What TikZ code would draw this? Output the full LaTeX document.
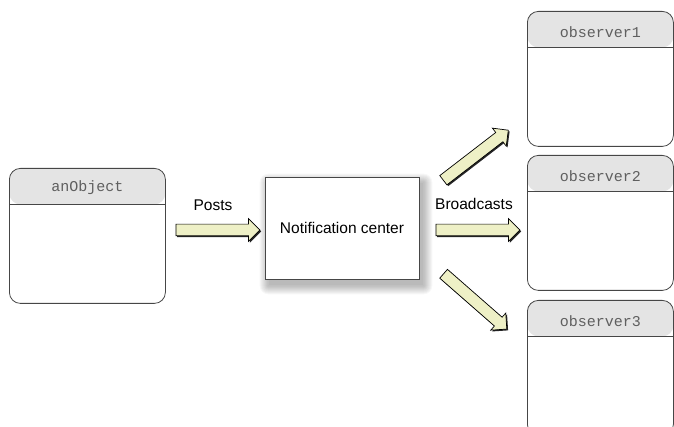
\documentclass[tikz,border=0pt]{standalone}
\usepackage{fontspec}
\setmainfont{Liberation Sans}
\newfontfamily\boxfont{Liberation Mono}
\usetikzlibrary{shapes.arrows,shadows,backgrounds}
\definecolor{headgray}{RGB}{228,228,228}
\definecolor{arrowfill}{RGB}{238,240,198}
\definecolor{edgegray}{RGB}{70,70,70}
\definecolor{titlegray}{RGB}{95,95,95}
\begin{document}
\begin{tikzpicture}[x=1pt,y=-1pt,
		objbox/.style={draw=edgegray,line width=0.8pt,rounded corners=11pt,anchor=north west,
			minimum width=#1,minimum height=135pt,inner sep=0pt,
			path picture={
				\fill[headgray] (path picture bounding box.north west) rectangle ([yshift=-36pt]path picture bounding box.north east);
				\draw[edgegray,line width=0.8pt] ([yshift=-36pt]path picture bounding box.north west) -- ([yshift=-36pt]path picture bounding box.north east);
			}},
		objtitle/.style={text=titlegray,font=\boxfont\fontsize{15}{17}\selectfont,inner sep=0pt},
		centerbox/.style={draw=edgegray,line width=0.8pt,fill=white,minimum width=154pt,minimum height=102pt,
			font=\fontsize{15.5}{18}\selectfont},
		fatarrow/.style={shape=single arrow,draw=black,line width=0.7pt,fill=arrowfill,
			inner xsep=0pt,inner ysep=5.5pt,
			minimum width=22pt,single arrow head extend=5.5pt,minimum height=#1,
			drop shadow={shadow xshift=1.3pt,shadow yshift=-1.3pt,opacity=0.85,fill=black}},
		arrowlabel/.style={font=\fontsize{15.5}{18}\selectfont,inner sep=0pt}]
	\clip (0,0) rectangle (674,427);
	\useasboundingbox (0,0) rectangle (674,427);

	% sender
	\node[objbox=156pt] (anobj) at (9,168) {};
	\node[objtitle] (anobjtitle) at ([yshift=-20pt]anobj.north) {anObject};

	% notification center with soft shadow
	\node[centerbox] (center) at (342,228) {Notification center};
	\begin{scope}[on background layer]
		\foreach \s in {0,...,9}
			\fill[black,opacity=0.03,rounded corners=\s pt] ([shift={(4-\s,6-\s)}]center.north west) rectangle ([shift={(4+\s,6+\s)}]center.south east);
	\end{scope}

	% observers
	\node[objbox=146pt] (obs1) at (527,11) {};
	\node[objtitle] (obs1title) at ([yshift=-21pt]obs1.north) {observer1};
	\node[objbox=146pt] (obs2) at (527,155) {};
	\node[objtitle] (obs2title) at ([yshift=-21pt]obs2.north) {observer2};
	\node[objbox=146pt] (obs3) at (527,300) {};
	\node[objtitle] (obs3title) at ([yshift=-21pt]obs3.north) {observer3};

	% arrows
	\node[fatarrow=84pt] (postarrow) at (215,230) {};
	\node[arrowlabel] (posts) at (213,205) {Posts};
	\node[fatarrow=84pt] (castarrow) at (475,230) {};
	\node[arrowlabel] (casts) at (474,204) {Broadcasts};
	\node[fatarrow=82pt,rotate=37.6] (uparrow) at (473.5,157) {};
	\node[fatarrow=84pt,rotate=-41.2] (downarrow) at (473,299.5) {};
\end{tikzpicture}
\end{document}
